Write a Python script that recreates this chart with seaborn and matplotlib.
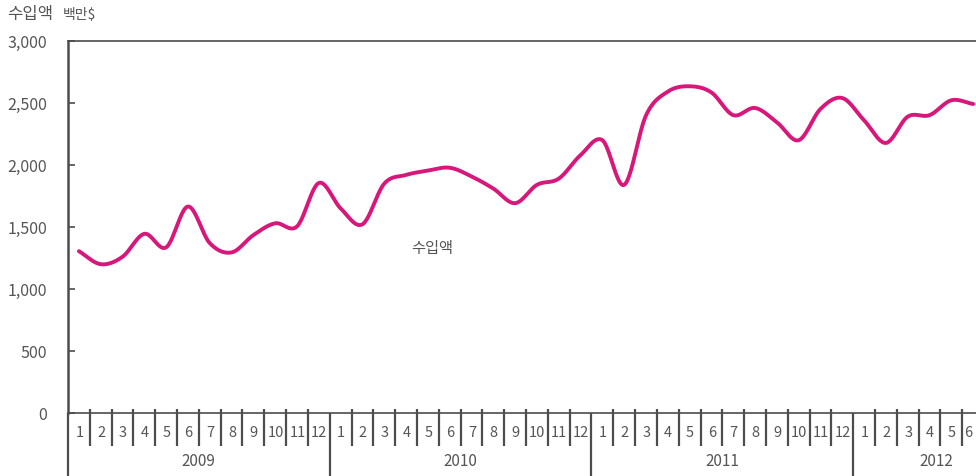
import numpy as np
import pandas as pd
import seaborn as sns
import matplotlib.pyplot as plt
from matplotlib.transforms import blended_transform_factory

# Monthly import value (million US$), Jan 2009 - Jun 2012
years = [2009, 2010, 2011, 2012]
months_per_year = [12, 12, 12, 6]
imports = [
    1305, 1200, 1260, 1445, 1336, 1665, 1370, 1295, 1435, 1530, 1505, 1855,  # 2009
    1650, 1522, 1850, 1920, 1955, 1978, 1908, 1810, 1692, 1840, 1890, 2080,  # 2010
    2200, 1840, 2400, 2592, 2635, 2585, 2402, 2460, 2345, 2200, 2452, 2540,  # 2011
    2360, 2178, 2390, 2402, 2522, 2492,                                      # 2012
]
y_ticks = [0, 500, 1000, 1500, 2000, 2500, 3000]
series_label = "수입액"
title_main = "수입액"
title_unit = "백만$"

LINE = "#d8177b"
AXIS = "#4d4d4d"
TEXT = "#555555"

sns.set_theme(style="white")
plt.rcParams["font.family"] = ["Noto Sans CJK KR", "DejaVu Sans"]

month_num = [m + 1 for n in months_per_year for m in range(n)]
idx = np.arange(len(imports), dtype=float)
vals = np.asarray(imports, dtype=float)

# Smooth curve through the monthly values (cubic Hermite, Catmull-Rom tangents)
pad = np.concatenate([[2 * vals[0] - vals[1]], vals, [2 * vals[-1] - vals[-2]]])
tang = (pad[2:] - pad[:-2]) / 2.0
xs, ys = [], []
for i in range(len(vals) - 1):
    t = np.linspace(0, 1, 25, endpoint=False)
    h00 = 2 * t**3 - 3 * t**2 + 1
    h10 = t**3 - 2 * t**2 + t
    h01 = -2 * t**3 + 3 * t**2
    h11 = t**3 - t**2
    ys.extend(h00 * vals[i] + h10 * tang[i] + h01 * vals[i + 1] + h11 * tang[i + 1])
    xs.extend(idx[i] + t)
xs.append(idx[-1])
ys.append(vals[-1])
curve = pd.DataFrame({"month": xs, "value": ys})

W, H = 976, 476
fig = plt.figure(figsize=(W / 100, H / 100), dpi=100)
left, right, top, bottom = 68, 976, 41, 413
ax = fig.add_axes([left / W, (H - bottom) / H, (right - left) / W, (bottom - top) / H])

sns.lineplot(data=curve, x="month", y="value", ax=ax, color=LINE, lw=2.8,
             sort=False, estimator=None, solid_capstyle="round")

ax.set_ylim(0, 3000)
month_w = (right - left) / 41.63
ax.set_xlim(-0.5, -0.5 + (right - left) / month_w)
ax.set_yticks(y_ticks)
ax.set_yticklabels([f"{v:,}" for v in y_ticks], color=TEXT, fontsize=11.5)
ax.tick_params(axis="y", direction="in", length=5, width=1.2, color=AXIS, pad=15, left=True)
ax.set_xticks([])
ax.set_xlabel("")
ax.set_ylabel("")

for s in ["left", "top", "bottom"]:
    ax.spines[s].set_visible(True)
    ax.spines[s].set_color(AXIS)
ax.spines["left"].set_linewidth(1.8)
ax.spines["top"].set_linewidth(1.2)
ax.spines["bottom"].set_linewidth(1.2)
ax.spines["right"].set_visible(False)

# Month / year scale under the plot
trans = blended_transform_factory(ax.transData, ax.transAxes)
ph = bottom - top
y_tick_top = 4 / ph
y_tick_bot = -33 / ph
y_year_bot = -(H - bottom) / ph
last = len(imports) - 1
pos = 0
for yr, n in zip(years, months_per_year):
    for m in range(n):
        b = pos + m - 0.5
        if m == 0:
            ax.plot([b, b], [0, y_year_bot], transform=trans, color=AXIS, lw=1.6,
                    clip_on=False, solid_capstyle="butt")
        else:
            ax.plot([b, b], [y_tick_top, y_tick_bot], transform=trans, color=AXIS, lw=1.6,
                    clip_on=False, solid_capstyle="butt")
        k = pos + m
        xl = k - 0.22 if k == last else k + 0.02
        ax.text(xl, -20 / ph, str(month_num[k]), transform=trans,
                ha="center", va="center", fontsize=10.5, color=TEXT, clip_on=False)
    ax.text(pos + (n - 1) / 2 if n == 12 else pos + 3.3, -49 / ph, str(yr), transform=trans,
            ha="center", va="center", fontsize=11, color=TEXT, clip_on=False)
    pos += n

# Series label inside the plot area
ax.text(16.2, 1330, series_label, ha="center", va="center", fontsize=11, color=TEXT)

# Title with unit
fig.text(7 / W, 1 - 15 / H, title_main, ha="left", va="center", fontsize=12, color=TEXT)
fig.text(63 / W, 1 - 15 / H, title_unit, ha="left", va="center", fontsize=10, color=TEXT)

fig.savefig("out.png", dpi=100, facecolor="white")
